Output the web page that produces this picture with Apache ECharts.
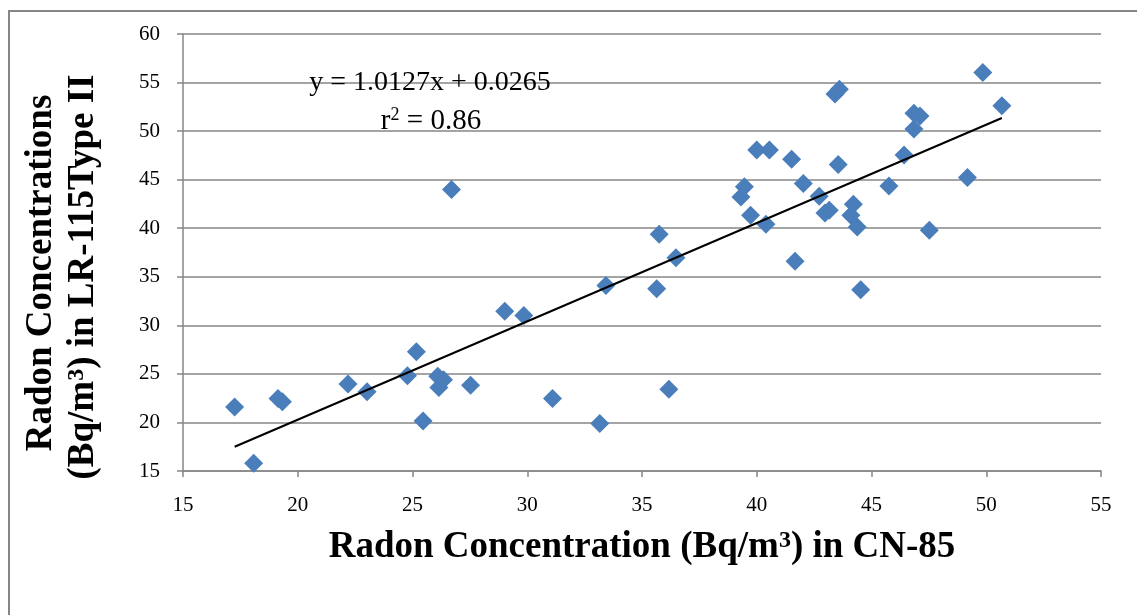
<!DOCTYPE html>
<html>
<head>
<meta charset="utf-8">
<script src="https://cdn.jsdelivr.net/npm/echarts@6/dist/echarts.min.js"></script>
<style>
html,body{margin:0;padding:0;background:#fff;}
#chart{width:1137px;height:615px;}
</style>
</head>
<body>
<div id="chart"></div>
<script>
// Data
const xValues = [17.25, 18.08, 19.14, 19.33, 22.19, 23.02, 24.78, 25.17, 25.46, 26.15, 26.10, 26.35, 26.70, 27.53,
  29.02, 29.85, 31.10, 33.16, 33.43, 35.64, 35.75, 36.17, 36.48, 39.31, 39.46, 39.73, 40.00, 40.55, 40.40,
  41.52, 41.67, 42.03, 42.72, 42.97, 43.16, 43.41, 43.60, 43.55, 44.21, 44.10, 44.38, 44.53, 45.76, 46.42,
  46.85, 47.11, 46.85, 47.52, 49.18, 49.85, 50.68];
const yValues = [21.60, 15.80, 22.46, 22.12, 23.95, 23.15, 24.80, 27.28, 20.16, 23.60, 24.75, 24.40, 44.00, 23.84,
  31.45, 31.00, 22.46, 19.88, 34.10, 33.76, 39.37, 23.43, 36.96, 43.22, 44.26, 41.33, 48.05, 48.05, 40.40,
  47.09, 36.61, 44.60, 43.30, 41.57, 41.85, 53.83, 54.30, 46.57, 42.47, 41.33, 40.12, 33.66, 44.36, 47.53,
  51.84, 51.56, 50.22, 39.78, 45.23, 56.03, 52.60];
const trendX = [17.25, 50.68];
const trendY = [17.50, 51.35];
const xTicks = [15, 20, 25, 30, 35, 40, 45, 50, 55];
const yTicks = [15, 20, 25, 30, 35, 40, 45, 50, 55, 60];
const equationText = 'y = 1.0127x + 0.0265';
const r2Value = '0.86';
const xTitleParts = ['Radon Concentration (Bq/m', '3', ') in CN-85'];
const yTitle1 = 'Radon Concentrations';
const yTitle2Parts = ['(Bq/m', '3', ') in LR-115Type II'];

const serif = '"Liberation Serif", "Times New Roman", serif';
const points = xValues.map((x, i) => [x, yValues[i]]);
const trend = trendX.map((x, i) => [x, trendY[i]]);
const titleRich = {
  b: {fontFamily: serif, fontWeight: 'bold', fontSize: 37, fill: '#000', verticalAlign: 'bottom'},
  s: {fontFamily: serif, fontWeight: 'bold', fontSize: 24, fill: '#000', verticalAlign: 'top'}
};
const supText = parts => '{b|' + parts[0] + '}{s|' + parts[1] + '}{b|' + parts[2] + '}';

const chart = echarts.init(document.getElementById('chart'), null, {renderer: 'canvas'});
chart.setOption({
  backgroundColor: '#ffffff',
  animation: false,
  grid: {left: 183, right: 36, top: 34, bottom: 144, containLabel: false},
  xAxis: {
    type: 'value', min: xTicks[0], max: xTicks[xTicks.length - 1], interval: 5,
    axisLine: {show: true, onZero: false, lineStyle: {color: '#868686', width: 1.5}},
    axisTick: {show: true, length: 6, lineStyle: {color: '#868686', width: 1.5}},
    axisLabel: {color: '#000', fontFamily: serif, fontSize: 21, margin: 24},
    splitLine: {show: false}
  },
  yAxis: {
    type: 'value', min: yTicks[0], max: yTicks[yTicks.length - 1], interval: 5,
    axisLine: {show: true, onZero: false, lineStyle: {color: '#868686', width: 1.5}},
    axisTick: {show: true, length: 6, lineStyle: {color: '#868686', width: 1.5}},
    axisLabel: {color: '#000', fontFamily: serif, fontSize: 21, margin: 23},
    splitLine: {show: true, lineStyle: {color: '#868686', width: 1.5}}
  },
  series: [
    {
      type: 'scatter', data: points, symbol: 'diamond', symbolSize: 19,
      itemStyle: {color: '#4A7EBB', opacity: 1}, z: 2
    },
    {
      type: 'line', data: trend, symbol: 'none', z: 3,
      lineStyle: {color: '#000', width: 2}
    }
  ],
  graphic: [
    {type: 'rect', shape: {x: 9, y: 11, width: 1200, height: 700}, style: {fill: 'none', stroke: '#868686', lineWidth: 2}, z: 0, silent: true},
    {type: 'text', x: 430, y: 83, style: {text: equationText, font: '28px ' + serif, fill: '#000', textAlign: 'center', textVerticalAlign: 'middle'}, z: 10},
    {type: 'text', x: 431, y: 121, style: {
      text: '{r|r}{s|2}{r| = ' + r2Value + '}',
      textAlign: 'center', textVerticalAlign: 'middle',
      rich: {
        r: {fontFamily: serif, fontSize: 29, fill: '#000', verticalAlign: 'bottom'},
        s: {fontFamily: serif, fontSize: 18, fill: '#000', verticalAlign: 'top'}
      }
    }, z: 10},
    {type: 'text', x: 642, y: 547, style: {text: supText(xTitleParts), rich: titleRich, textAlign: 'center', textVerticalAlign: 'middle'}, z: 10},
    {type: 'text', x: 41, y: 273, rotation: Math.PI / 2, style: {text: yTitle1, font: 'bold 37px ' + serif, fill: '#000', textAlign: 'center', textVerticalAlign: 'middle'}, z: 10},
    {type: 'text', x: 83, y: 277, rotation: Math.PI / 2, style: {text: supText(yTitle2Parts), rich: titleRich, textAlign: 'center', textVerticalAlign: 'middle'}, z: 10}
  ]
});
</script>
</body>
</html>
